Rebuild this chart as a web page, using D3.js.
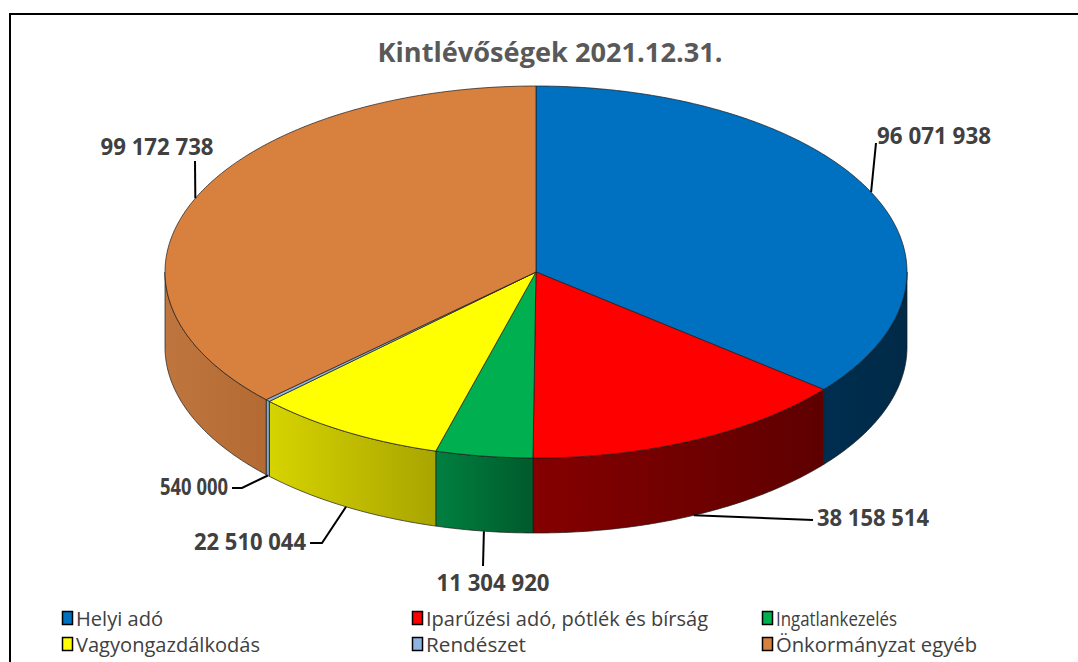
<!DOCTYPE html>
<html>
<head>
<meta charset="utf-8">
<script src="https://cdn.jsdelivr.net/npm/d3@7"></script>
<style>
  body { margin: 0; background: #fff; }
  svg { display: block; }
</style>
</head>
<body>
<svg id="chart" width="1078" height="662"></svg>
<script>
const categories = ["Helyi adó", "Iparűzési adó, pótlék és bírság", "Ingatlankezelés",
  "Vagyongazdálkodás", "Rendészet", "Önkormányzat egyéb"];
const values = [96071938, 38158514, 11304920, 22510044, 540000, 99172738];
const title = "Kintlévőségek 2021.12.31.";

const topColors = ["#0070C0", "#FF0000", "#00B050", "#FFFF00", "#8DB4E2", "#D8803E"];
const sideColors = [["#002E50", "#002A47"], ["#850000", "#5E0000"], ["#008040", "#005A2C"],
  ["#D6D300", "#A9A500"], ["#8DB4E2", "#7096C0"], ["#BE763E", "#B46A33"]];

// label layout: end of the leader line (elbow) + text placement
const labelLayout = [
  {ex: 876, ey: 143, tx: 877, ty: 144, anchor: "start", w: 114},
  {ex: 813, ey: 520, tx: 817, ty: 526, anchor: "start", w: 112},
  {ex: 483, ey: 566, tx: 493, ty: 591, anchor: "middle", w: 113},
  {ex: 310, ey: 543, tx: 306, ty: 550, anchor: "end", w: 112, elbow: [322, 543]},
  {ex: 232, ey: 488, tx: 228, ty: 495, anchor: "end", w: 68, elbow: [242, 488]},
  {ex: 195, ey: 161, tx: 157, ty: 155, anchor: "middle", w: 113}
];
const legendWidths = [87, 282, 121, 184, 100, 201];

const svg = d3.select("#chart");
const cx = 536, cy = 272, rx = 371, ry = 186, depth = 75;

const fmt = d3.formatLocale({decimal: ",", thousands: " ", grouping: [3], currency: ["", ""]}).format(",d");

// chart frame
svg.append("rect")
  .attr("x", 10).attr("y", 14)
  .attr("width", 1200).attr("height", 800)
  .attr("fill", "#fff").attr("stroke", "#000").attr("stroke-width", 2);

svg.append("text")
  .attr("x", 550).attr("y", 62)
  .attr("text-anchor", "middle")
  .attr("font-family", "'Open Sans', sans-serif")
  .attr("font-weight", "bold")
  .attr("font-size", 26)
  .attr("fill", "#595959")
  .attr("textLength", 345).attr("lengthAdjust", "spacingAndGlyphs")
  .text(title);

const pie = d3.pie().sort(null).value(d => d.value);
const data = categories.map((c, i) => ({name: c, value: values[i], i}));
const arcs = pie(data);

function pt(a, dy) {
  return [cx + rx * Math.sin(a), cy - ry * Math.cos(a) + (dy || 0)];
}
function arcPoints(a0, a1, dy) {
  const n = Math.max(2, Math.ceil((a1 - a0) / 0.01));
  return d3.range(n + 1).map(k => pt(a0 + (a1 - a0) * k / n, dy));
}
const line = d3.line();

const defs = svg.append("defs");
arcs.forEach(d => {
  const g = defs.append("linearGradient")
    .attr("id", "side" + d.data.i)
    .attr("x1", 0).attr("x2", 1).attr("y1", 0).attr("y2", 0);
  g.append("stop").attr("offset", 0).attr("stop-color", sideColors[d.data.i][0]);
  g.append("stop").attr("offset", 1).attr("stop-color", sideColors[d.data.i][1]);
});

// side walls (front half only: angles between 90 and 270 degrees)
const sides = arcs.map(d => {
  const s0 = Math.max(d.startAngle, Math.PI / 2);
  const s1 = Math.min(d.endAngle, 3 * Math.PI / 2);
  return s1 > s0 ? {d, s0, s1} : null;
}).filter(Boolean);

svg.append("g").selectAll("path")
  .data(sides).enter()
  .append("path")
  .attr("d", s => {
    const topPts = arcPoints(s.s0, s.s1, 0);
    const botPts = arcPoints(s.s0, s.s1, depth).reverse();
    return line(topPts.concat(botPts)) + "Z";
  })
  .attr("fill", s => `url(#side${s.d.data.i})`)
  .attr("stroke", "#1a1a1a")
  .attr("stroke-width", 0.7)
  .attr("stroke-linejoin", "round");

// top faces
svg.append("g").selectAll("path")
  .data(arcs).enter()
  .append("path")
  .attr("d", d => line([[cx, cy]].concat(arcPoints(d.startAngle, d.endAngle, 0))) + "Z")
  .attr("fill", d => topColors[d.data.i])
  .attr("stroke", "#1a1a1a")
  .attr("stroke-width", 0.7)
  .attr("stroke-linejoin", "round");

// leader lines and value labels
const lbl = svg.append("g");
arcs.forEach(d => {
  const mid = (d.startAngle + d.endAngle) / 2;
  const front = mid > Math.PI / 2 && mid < 3 * Math.PI / 2;
  const a = pt(mid, front ? depth : 0);
  const L = labelLayout[d.data.i];
  const pts = [a];
  if (L.elbow) pts.push(L.elbow);
  pts.push([L.ex, L.ey]);
  lbl.append("path")
    .attr("d", line(pts))
    .attr("fill", "none")
    .attr("stroke", "#000")
    .attr("stroke-width", 2);
  lbl.append("text")
    .attr("x", L.tx).attr("y", L.ty)
    .attr("text-anchor", L.anchor)
    .attr("font-family", "'Open Sans', sans-serif")
    .attr("font-weight", "bold")
    .attr("font-size", 23)
    .attr("fill", "#404040")
    .attr("textLength", L.w).attr("lengthAdjust", "spacingAndGlyphs")
    .text(fmt(d.data.value));
});

// legend
const colX = [62, 412, 762], rowY = [611, 637];
const leg = svg.append("g").selectAll("g")
  .data(data).enter()
  .append("g")
  .attr("transform", d => `translate(${colX[d.i % 3]},${rowY[Math.floor(d.i / 3)]})`);
leg.append("rect")
  .attr("x", 0.5).attr("y", 0.5)
  .attr("width", 10).attr("height", 13)
  .attr("fill", d => topColors[d.i])
  .attr("stroke", "#000").attr("stroke-width", 1.5);
leg.append("text")
  .attr("x", 14).attr("y", 15)
  .attr("font-family", "'Open Sans', sans-serif")
  .attr("font-size", 20)
  .attr("fill", "#404040")
  .attr("textLength", d => legendWidths[d.i]).attr("lengthAdjust", "spacingAndGlyphs")
  .text(d => d.name);
</script>
</body>
</html>
